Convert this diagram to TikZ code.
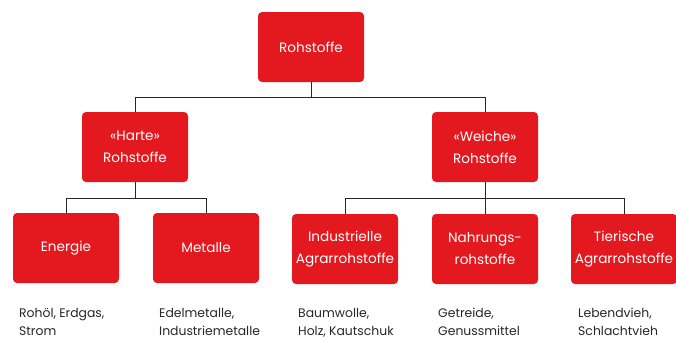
\documentclass[tikz,border=0pt]{standalone}
\usepackage{fontspec}
\setmainfont{Poppins}
\definecolor{rot}{HTML}{E4191F}
\tikzset{box/.style = {rectangle, rounded corners=4pt, fill=rot, text=white, minimum width=106pt, minimum height=70pt, inner sep=0pt, align=center, font=\fontsize{13.6}{22}\selectfont},
           ex/.style = {anchor=base west, align=left, inner sep=0pt, text=black!85, font=\fontsize{12.4}{18}\selectfont},
           li/.style = {line width=0.9pt, black!85}}

\begin{document}
\begin{tikzpicture}[x=1pt, y=-1pt]
    \useasboundingbox (0,0) rectangle (676,338);
    \node[box] (r) at (311,47) {Rohstoffe};
    \node[box] (h) at (135,147) {«Harte»\\Rohstoffe};
    \node[box] (w) at (485,147) {«Weiche»\\Rohstoffe};
    \node[box] (e) at (66,248) {Energie};
    \node[box] (m) at (206,248) {Metalle};
    \node[box] (i) at (345,249) {Industrielle\\Agrarrohstoffe};
    \node[box] (n) at (485,249) {Nahrungs-\\rohstoffe};
    \node[box] (t) at (624,249) {Tierische\\Agrarrohstoffe};
    \draw[li] (r.south) -- ++(0,15) -| (h.north);
    \draw[li] (r.south) -- ++(0,15) -| (w.north);
    \draw[li] (h.south) -- ++(0,16) -| (e.north);
    \draw[li] (h.south) -- ++(0,16) -| (m.north);
    \draw[li] (w.south) -- ++(0,16) -| (i.north);
    \draw[li] (w.south) -- (n.north);
    \draw[li] (w.south) -- ++(0,16) -| (t.north);
    \node[ex] (te) at (19,335) {Rohöl, Erdgas,\\Strom};
    \node[ex] (tm) at (159,335) {Edelmetalle,\\Industriemetalle};
    \node[ex] (ti) at (298,335) {Baumwolle,\\Holz, Kautschuk};
    \node[ex] (tn) at (438,335) {Getreide,\\Genussmittel};
    \node[ex] (tt) at (578,335) {Lebendvieh,\\Schlachtvieh};
\end{tikzpicture}
\end{document}
